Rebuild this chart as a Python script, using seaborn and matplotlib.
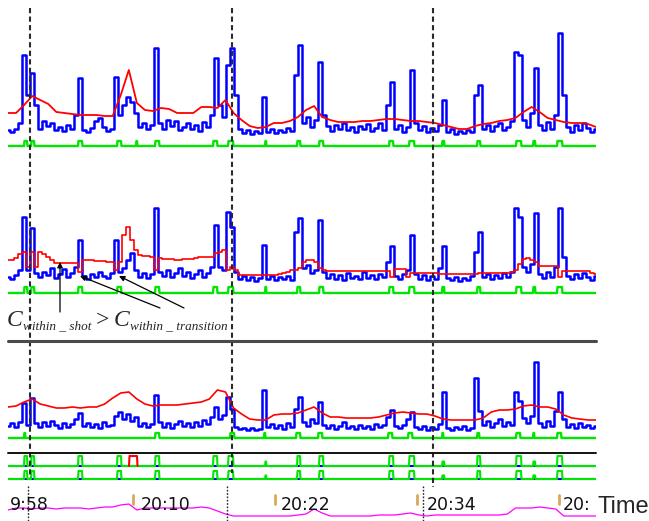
import numpy as np
import matplotlib
matplotlib.use("Agg")
import matplotlib.pyplot as plt
import seaborn as sns

# frame axis of the video runs 8..596; every series is sampled evenly along it
X0, X1 = 8, 596

# ---- top panel: colour similarity (blue), adaptive threshold (red), cuts (green)
blue_top = [5, 3, 6, 12, 80, 40, 62, 30, 6, 14,
            9, 12, 5, 8, 4, 10, 6, 20, 57, 5,
            3, 7, 14, 17, 8, 4, 6, 58, 20, 30,
            38, 33, 22, 8, 12, 6, 10, 87, 12, 6,
            15, 9, 14, 5, 8, 12, 6, 10, 4, 13,
            8, 20, 77, 30, 18, 70, 87, 40, 6, 2,
            5, 1, 4, 2, 38, 3, 6, 2, 5, 3,
            7, 4, 60, 90, 12, 18, 8, 15, 73, 20,
            9, 4, 10, 6, 12, 5, 8, 3, 9, 6,
            11, 4, 7, 12, 5, 30, 53, 6, 10, 3,
            8, 65, 12, 5, 9, 3, 7, 4, 10, 35,
            3, 6, 1, 4, 2, 5, 3, 40, 50, 6,
            10, 4, 9, 12, 5, 8, 14, 83, 80, 15,
            8, 22, 67, 10, 5, 13, 6, 20, 102, 40,
            8, 3, 10, 5, 12, 7, 3, 6]
red_top = [22, 22, 30, 39, 35, 31, 23, 22, 21, 20,
           20, 20, 19, 19, 40, 65, 32, 25, 24, 27,
           26, 22, 22, 22, 28, 28, 27, 35, 22, 15,
           9, 7, 8, 12, 12, 14, 18, 25, 29, 18,
           15, 13, 13, 13, 14, 14, 15, 16, 16, 15,
           14, 14, 13, 12, 10, 8, 6, 6, 9, 11,
           12, 14, 15, 17, 23, 28, 23, 17, 15, 13,
           12, 12, 11, 8]
green_top_on = [24, 31, 78, 117, 136, 155, 213, 228, 265, 297, 319,
                389, 409, 442, 477, 516, 533, 557]
green_top_off = [27, 34, 82, 121, 137, 159, 217, 233, 266, 300, 323,
                 393, 414, 444, 480, 521, 535, 562]

# ---- middle panel
blue_mid = [5, 3, 7, 12, 65, 12, 54, 9, 5, 10,
            7, 14, 4, 8, 13, 5, 9, 15, 42, 6,
            3, 8, 5, 10, 6, 4, 9, 42, 10, 14,
            22, 29, 12, 5, 9, 4, 8, 74, 10, 6,
            12, 5, 9, 14, 6, 10, 4, 8, 12, 5,
            9, 15, 57, 15, 12, 70, 55, 10, 3, 6,
            2, 5, 1, 4, 37, 3, 6, 2, 5, 3,
            6, 2, 50, 64, 14, 17, 9, 12, 62, 10,
            4, 8, 3, 7, 2, 9, 4, 6, 3, 10,
            4, 7, 3, 8, 5, 20, 36, 6, 3, 8,
            12, 47, 8, 3, 7, 2, 6, 3, 14, 36,
            4, 2, 5, 1, 4, 2, 6, 30, 50, 5,
            8, 3, 7, 4, 9, 5, 10, 74, 65, 15,
            10, 18, 69, 8, 4, 10, 5, 15, 74, 25,
            6, 3, 8, 4, 9, 5, 2, 6]
red_mid = [22, 22, 24, 28, 30, 15, 30, 15, 30, 28,
           25, 22, 19, 19, 19, 19, 19, 19, 10, 22,
           22, 22, 21, 21, 21, 20, 20, 12, 20, 47,
           55, 42, 32, 27, 26, 26, 25, 12, 24, 23,
           23, 23, 22, 22, 23, 23, 23, 24, 25, 25,
           25, 25, 29, 30, 32, 12, 15, 12, 7, 7,
           7, 7, 7, 7, 7, 7, 7, 7, 8, 9,
           10, 12, 12, 14, 20, 22, 22, 20, 14, 12,
           11, 11, 11, 11, 11, 11, 11, 11, 11, 11,
           11, 11, 11, 11, 11, 11, 5, 13, 13, 13,
           5, 9, 9, 9, 9, 9, 9, 9, 8, 8,
           8, 8, 8, 8, 8, 8, 8, 8, 9, 9,
           9, 9, 9, 9, 9, 9, 10, 12, 18, 23,
           24, 22, 20, 16, 16, 16, 16, 16, 5, 11,
           11, 11, 11, 11, 11, 11, 9, 8]
cuts_on = [24, 31, 78, 117, 155, 213, 228, 265, 297, 319,
           389, 409, 442, 477, 516, 533, 557]
cuts_off = [27, 34, 82, 121, 159, 217, 233, 266, 300, 323,
            393, 414, 444, 480, 521, 535, 562]

# ---- lower panel
blue_low = [5, 8, 4, 9, 28, 6, 33, 8, 4, 9,
            5, 10, 6, 3, 8, 4, 7, 12, 18, 5,
            8, 4, 7, 3, 9, 5, 6, 15, 19, 12,
            17, 10, 14, 5, 8, 4, 7, 36, 9, 4,
            8, 3, 7, 10, 5, 8, 4, 9, 5, 11,
            7, 14, 24, 12, 16, 34, 22, 4, 2, 3,
            1, 3, 1, 2, 41, 4, 7, 3, 6, 2,
            8, 4, 22, 34, 9, 5, 12, 8, 29, 6,
            3, 6, 2, 5, 9, 3, 5, 2, 6, 3,
            5, 2, 7, 4, 6, 14, 21, 5, 3, 6,
            12, 19, 4, 2, 5, 1, 4, 2, 7, 39,
            3, 1, 4, 2, 5, 1, 3, 53, 20, 6,
            10, 4, 8, 12, 5, 9, 6, 39, 30, 13,
            8, 15, 69, 8, 4, 10, 5, 20, 39, 12,
            4, 7, 3, 8, 4, 6, 3, 5]
red_low = [24, 25, 29, 32, 27, 25, 23, 23, 24, 23,
           24, 24, 27, 33, 38, 39, 32, 27, 25, 26,
           26, 26, 27, 28, 29, 32, 41, 39, 23, 17,
           12, 11, 11, 16, 17, 17, 18, 21, 24, 18,
           14, 14, 13, 13, 13, 13, 14, 16, 18, 19,
           18, 17, 17, 15, 12, 11, 11, 11, 11, 13,
           19, 21, 21, 22, 25, 26, 24, 24, 22, 16,
           13, 12, 11, 11]
green_low_on = [24, 155, 230, 264, 296, 318, 388, 408, 442, 477, 516, 533, 557]
green_low_off = [25, 159, 234, 265, 300, 322, 392, 412, 443, 479, 520, 534, 561]

# detection strips: one false detection on the upper strip
false_on = [129]
false_off = [137]

# scene boundaries
scene_cuts = [30, 232, 433]
clock_cuts = [28, 227, 423]

# clock track
clock_labels = ['9:58', '20:10', '20:22', '20:34', '20:']
clock_label_x = [10, 141, 281, 427, 563]
clock_ticks = [133, 275, 417, 559]
audio_level = [8, 10, 10, 9, 10, 10, 9, 10, 10, 10,
               9, 10, 11, 11, 13, 14, 8, 10, 10, 10,
               10, 10, 10, 10, 11, 10, 7, 4, 2, 2,
               2, 2, 2, 2, 2, 2, 3, 4, 9, 5,
               2, 2, 2, 2, 2, 2, 3, 3, 3, 4,
               5, 3, 2, 3, 3, 3, 3, 3, 3, 3,
               3, 3, 4, 10, 10, 10, 11, 10, 9, 2,
               2, 2, 2, 2]

BLUE, RED, GREEN, MAGENTA = '#0000ff', '#ff0000', '#00e600', '#ff00ff'

sns.set_style('white')
plt.rcParams['font.family'] = ['DejaVu Sans']

W, H = 649, 521
fig = plt.figure(figsize=(W / 100, H / 100), dpi=100)


def band(top, bottom, ylo, yhi):
    # axes spanning the frame range horizontally, given pixel rows vertically
    ax = fig.add_axes([X0 / W, 1 - bottom / H, (X1 - X0) / W, (bottom - top) / H])
    ax.set_xlim(X0, X1)
    ax.set_ylim(ylo, yhi)
    ax.axis('off')
    return ax


def pulses(on, off, base, top, short=None):
    xs, ys = [X0], [base]
    for s, e in zip(on, off):
        t = top
        if short is not None and e - s <= 2:
            t = base + (top - base) * short
        xs += [s, s + 0.5, e, e + 0.5]
        ys += [base, t, t, base]
    xs.append(X1)
    ys.append(base)
    return xs, ys


def series(ax, vals, color, lw, steps=False):
    xs = np.linspace(X0, X1, len(vals))
    kw = dict(drawstyle='steps-mid') if steps else {}
    sns.lineplot(x=xs, y=vals, ax=ax, color=color, linewidth=lw,
                 estimator=None, legend=False, **kw)


# top panel
ax1 = band(0, 152, -17, 135)
series(ax1, blue_top, BLUE, 1.8, steps=True)
series(ax1, red_top, RED, 1.3)
gx, gy = pulses(green_top_on, green_top_off, -11, -6)
ax1.plot(gx, gy, color=GREEN, lw=1.7)

# middle panel
ax2 = band(152, 300, -18, 130)
series(ax2, blue_mid, BLUE, 1.8, steps=True)
series(ax2, red_mid, RED, 1.2, steps=True)
gx, gy = pulses(cuts_on, cuts_off, -11, -5)
ax2.plot(gx, gy, color=GREEN, lw=1.7)

# lower panel
ax3 = band(345, 447, -16, 86)
series(ax3, blue_low, BLUE, 1.8, steps=True)
series(ax3, red_low, RED, 1.2)
gx, gy = pulses(green_low_on, green_low_off, -7, -2)
ax3.plot(gx, gy, color=GREEN, lw=1.7)

# detection strips (pixel rows, inverted)
ax4 = band(448, 486, 486, 448)
for base, top, extra in [(466, 456, True), (479, 471, False)]:
    ax4.plot([X0, X1], [base, base], color=BLUE, lw=1.5)
    gx, gy = pulses(cuts_on, cuts_off, base, top, short=0.45)
    ax4.plot(gx, gy, color=GREEN, lw=1.5)
    if extra:
        rx, ry = pulses(false_on, false_off, base, top)
        ax4.plot(rx[1:-1], ry[1:-1], color=RED, lw=1.5)

# audio / clock track
ax5 = band(495, 521, -3, 23)
series(ax5, audio_level, MAGENTA, 0.9)

# overlay in pixel coordinates for lines, labels and annotation
ov = fig.add_axes([0, 0, 1, 1], facecolor='none')
ov.set_xlim(0, W)
ov.set_ylim(H, 0)
ov.axis('off')

for x, y_end in zip(scene_cuts, [478, 473, 487]):
    ov.plot([x, x], [8, y_end], color='#2a2a2a', lw=1.5, dashes=(2.5, 1.6))
for x in clock_cuts:
    ov.plot([x, x], [486, H], color='#222222', lw=1.0, dashes=(1.2, 1.2))

ov.plot([X0, X1], [340.5, 340.5], color='#4a4a4a', lw=2.2)
ov.plot([X0, X1], [453, 453], color='#111111', lw=1.4)

# C_within_shot > C_within_transition, set piece by piece in a Times-like italic
serif = ['Liberation Serif', 'DejaVu Serif']
big = dict(fontsize=17, family=serif, style='italic', va='baseline', ha='left')
small = dict(fontsize=9.5, family=serif, style='italic', va='baseline', ha='left')
ov.text(7, 326, 'C', **big)
ov.text(23, 329, 'within _ shot', **small)
ov.text(96, 326, '>', fontsize=17, family=serif, va='baseline', ha='left')
ov.text(114, 326, 'C', **big)
ov.text(130, 329, 'within _ transition', **small)

arrow = dict(arrowstyle='-|>', color='black', lw=0.9, shrinkA=0, shrinkB=0,
             mutation_scale=8)
ov.annotate('', xy=(60, 262), xytext=(60, 312), arrowprops=arrow)
ov.annotate('', xy=(80, 276), xytext=(160, 308), arrowprops=arrow)
ov.annotate('', xy=(119, 276), xytext=(184, 308), arrowprops=arrow)

for lab, x in zip(clock_labels, clock_label_x):
    ov.text(x, 510, lab, fontsize=12.5, va='baseline', ha='left', color='#111111')
for x in clock_ticks:
    ov.plot([x, x], [495, 504], color='#d9a85a', lw=2)
ov.text(597, 513, 'Time', fontsize=17, va='baseline', ha='left',
        family=['Liberation Sans', 'DejaVu Sans'])

fig.savefig('out.png', dpi=100, facecolor='white')
